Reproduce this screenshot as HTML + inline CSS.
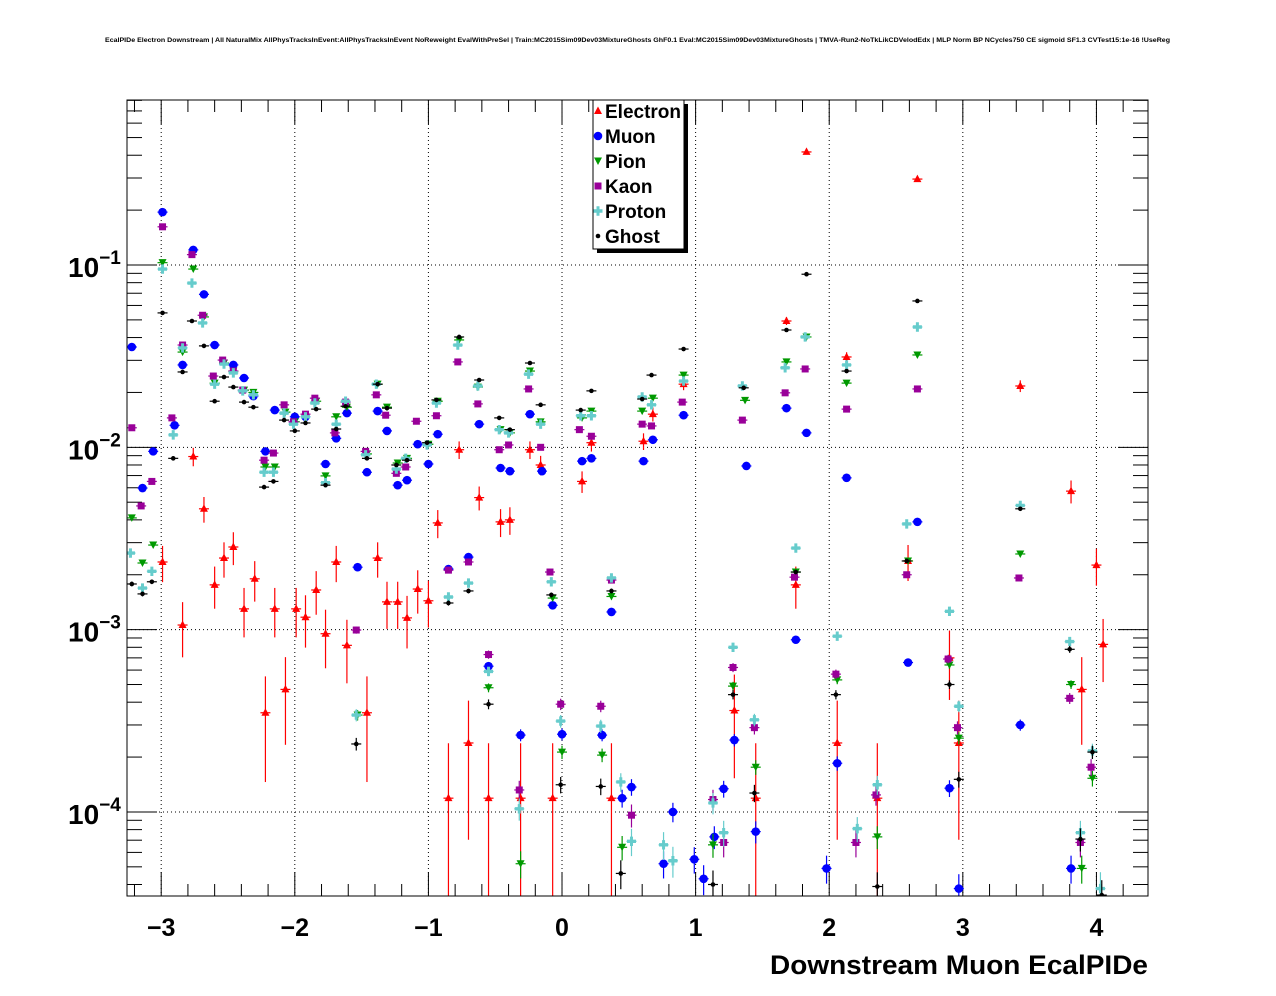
<!DOCTYPE html>
<html><head><meta charset="utf-8"><title>Downstream Muon EcalPIDe</title>
<style>
html,body{margin:0;padding:0;background:#fff;}
svg{display:block;}
text{font-family:"Liberation Sans",Arial,sans-serif;font-weight:bold;}
</style></head>
<body>
<svg id="chart" width="1276" height="996" viewBox="0 0 1276 996" xmlns="http://www.w3.org/2000/svg">
<rect x="0" y="0" width="1276" height="996" fill="#fff"/>
<text x="105" y="42" font-size="6" textLength="1065" lengthAdjust="spacingAndGlyphs">EcalPIDe Electron Downstream | All NaturalMix AllPhysTracksInEvent:AllPhysTracksInEvent NoReweight EvalWithPreSel | Train:MC2015Sim09Dev03MixtureGhosts GhF0.1 Eval:MC2015Sim09Dev03MixtureGhosts | TMVA-Run2-NoTkLikCDVelodEdx | MLP Norm BP NCycles750 CE sigmoid SF1.3 CVTest15:1e-16 !UseReg</text>
<g id="grid"></g>
<g id="axes"></g>
<g id="plotarea" clip-path="url(#clip)"></g>
<defs><clipPath id="clip"><rect x="127" y="100" width="1021" height="796"/></clipPath></defs>
<rect x="127" y="100" width="1021" height="796" fill="none" stroke="#000" stroke-width="1"/>
<text x="1148" y="974" font-size="27" text-anchor="end" textLength="378" lengthAdjust="spacingAndGlyphs">Downstream Muon EcalPIDe</text>
<g id="legend"></g>
</svg>
<script>
// ---- data ----
const seriesNames = ["Electron","Muon","Pion","Kaon","Proton","Ghost"];
const electronX = [-2.99,-2.84,-2.76,-2.68,-2.60,-2.53,-2.46,-2.38,-2.30,-2.22,-2.15,-2.07,-1.99,-1.92,-1.84,-1.77,-1.69,-1.61,-1.46,-1.38,-1.31,-1.23,-1.16,-1.08,-1.00,-0.93,-0.85,-0.77,-0.70,-0.62,-0.55,-0.46,-0.39,-0.31,-0.24,-0.16,-0.07,0.15,0.22,0.37,0.61,0.68,0.91,1.29,1.45,1.68,1.75,1.83,2.06,2.13,2.36,2.59,2.66,2.90,2.97,3.43,3.81,3.89,4.00,4.05];
const electronY = [2.35e-3,1.06e-3,8.9e-3,4.6e-3,1.76e-3,2.47e-3,2.84e-3,1.30e-3,1.90e-3,3.5e-4,1.30e-3,4.7e-4,1.30e-3,1.17e-3,1.65e-3,9.5e-4,2.35e-3,8.2e-4,3.5e-4,2.47e-3,1.42e-3,1.42e-3,1.16e-3,1.67e-3,1.44e-3,3.85e-3,1.19e-4,9.7e-3,2.39e-4,5.3e-3,1.19e-4,3.9e-3,4.0e-3,1.19e-4,9.7e-3,8.0e-3,1.19e-4,6.5e-3,1.06e-2,1.19e-4,1.08e-2,1.52e-2,2.22e-2,3.6e-4,1.19e-4,4.93e-2,1.76e-3,0.417,2.39e-4,3.13e-2,1.19e-4,2.38e-3,0.296,7.0e-4,2.39e-4,2.17e-2,5.75e-3,4.7e-4,2.26e-3,8.3e-4];
const muonX = [-3.22,-3.14,-3.06,-2.99,-2.90,-2.84,-2.76,-2.68,-2.60,-2.46,-2.38,-2.31,-2.22,-2.15,-2.00,-1.92,-1.77,-1.69,-1.61,-1.53,-1.46,-1.38,-1.31,-1.23,-1.16,-1.08,-1.00,-0.93,-0.85,-0.70,-0.62,-0.55,-0.46,-0.39,-0.31,-0.24,-0.15,-0.07,0.00,0.15,0.22,0.30,0.37,0.45,0.52,0.61,0.68,0.76,0.83,0.91,0.99,1.06,1.14,1.21,1.29,1.38,1.45,1.68,1.75,1.83,1.98,2.06,2.13,2.59,2.66,2.90,2.97,3.43,3.81];
const muonY = [3.55e-2,5.98e-3,9.5e-3,0.195,1.32e-2,2.83e-2,0.121,6.9e-2,3.64e-2,2.83e-2,2.40e-2,1.91e-2,9.5e-3,1.60e-2,1.47e-2,1.47e-2,8.1e-3,1.12e-2,1.54e-2,2.2e-3,7.3e-3,1.58e-2,1.23e-2,6.2e-3,6.6e-3,1.04e-2,8.1e-3,1.18e-2,2.15e-3,2.5e-3,1.34e-2,6.3e-4,7.7e-3,7.4e-3,2.64e-4,1.52e-2,7.4e-3,1.36e-3,2.67e-4,8.4e-3,8.7e-3,2.64e-4,1.25e-3,1.19e-4,1.37e-4,8.4e-3,1.10e-2,5.2e-5,1.0e-4,1.50e-2,5.5e-5,4.3e-5,7.3e-5,1.34e-4,2.48e-4,7.9e-3,7.8e-5,1.64e-2,8.8e-4,1.20e-2,4.9e-5,1.85e-4,6.8e-3,6.6e-4,3.9e-3,1.35e-4,3.8e-5,3.0e-4,4.9e-5];
const pionX = [-3.22,-3.14,-3.06,-2.99,-2.84,-2.76,-2.68,-2.60,-2.53,-2.46,-2.38,-2.31,-2.22,-2.15,-2.07,-2.00,-1.84,-1.77,-1.69,-1.61,-1.53,-1.46,-1.38,-1.31,-1.23,-1.16,-1.00,-0.93,-0.77,-0.63,-0.55,-0.46,-0.39,-0.31,-0.24,-0.16,-0.07,0.00,0.15,0.22,0.30,0.37,0.45,0.60,0.68,0.91,1.13,1.28,1.45,1.37,1.68,1.83,1.75,2.06,2.13,2.36,2.59,2.66,2.90,2.97,3.43,3.81,3.89,3.97];
const pionY = [4.1e-3,2.32e-3,2.91e-3,0.103,3.33e-2,9.5e-2,5.19e-2,2.25e-2,2.90e-2,2.62e-2,2.06e-2,2.0e-2,7.8e-3,7.8e-3,1.56e-2,1.38e-2,1.79e-2,6.97e-3,1.47e-2,1.66e-2,3.4e-4,9.2e-3,2.22e-2,1.66e-2,8.2e-3,8.7e-3,1.04e-2,1.79e-2,3.88e-2,2.14e-2,4.8e-4,1.25e-2,1.2e-2,5.2e-5,2.62e-2,1.38e-2,1.49e-3,2.13e-4,1.45e-2,1.58e-2,2.05e-4,1.52e-3,6.4e-5,1.58e-2,1.86e-2,2.49e-2,6.6e-5,4.9e-4,1.76e-4,1.81e-2,2.94e-2,4.03e-2,2.07e-3,5.3e-4,2.25e-2,7.3e-5,2.38e-3,3.21e-2,6.4e-4,2.54e-4,2.6e-3,5.0e-4,4.9e-5,1.53e-4];
const kaonX = [-3.22,-3.15,-3.07,-2.99,-2.92,-2.84,-2.77,-2.69,-2.61,-2.54,-2.46,-2.39,-2.23,-2.16,-2.08,-2.01,-1.92,-1.85,-1.70,-1.62,-1.54,-1.47,-1.39,-1.32,-1.24,-1.17,-1.09,-0.94,-0.85,-0.78,-0.70,-0.63,-0.55,-0.47,-0.40,-0.32,-0.25,-0.16,-0.09,-0.01,0.13,0.22,0.29,0.37,0.52,0.60,0.67,0.90,1.13,1.21,1.28,1.44,1.35,1.67,1.82,1.74,2.05,2.13,2.20,2.35,2.58,2.66,2.89,2.96,3.42,3.80,3.88,3.96];
const kaonY = [1.28e-2,4.77e-3,6.5e-3,0.162,1.45e-2,3.64e-2,0.114,5.3e-2,2.46e-2,3.01e-2,2.62e-2,2.06e-2,8.5e-3,9.3e-3,1.71e-2,1.38e-2,1.52e-2,1.86e-2,1.20e-2,1.77e-2,9.95e-4,9.5e-3,1.94e-2,1.50e-2,7.2e-3,7.8e-3,1.39e-2,1.49e-2,2.12e-3,2.94e-2,2.35e-3,1.73e-2,7.3e-4,9.7e-3,1.03e-2,1.32e-4,2.09e-2,1.0e-2,2.07e-3,3.9e-4,1.25e-2,1.15e-2,3.8e-4,1.87e-3,9.6e-5,1.34e-2,1.31e-2,1.77e-2,1.17e-4,6.8e-5,6.2e-4,2.9e-4,1.41e-2,1.99e-2,2.69e-2,1.94e-3,5.7e-4,1.62e-2,6.8e-5,1.24e-4,2.0e-3,2.09e-2,6.9e-4,2.9e-4,1.92e-3,4.2e-4,6.8e-5,1.76e-4];
const protonX = [-3.23,-3.14,-3.07,-2.99,-2.91,-2.84,-2.77,-2.69,-2.60,-2.53,-2.46,-2.39,-2.31,-2.23,-2.16,-2.08,-2.01,-1.92,-1.85,-1.77,-1.69,-1.62,-1.54,-1.47,-1.39,-1.24,-1.17,-1.01,-0.94,-0.85,-0.78,-0.70,-0.63,-0.55,-0.47,-0.40,-0.32,-0.25,-0.16,-0.08,-0.01,0.14,0.22,0.29,0.37,0.44,0.52,0.60,0.67,0.76,0.83,0.91,1.13,1.21,1.28,1.44,1.35,1.67,1.82,1.75,2.06,2.13,2.21,2.36,2.58,2.66,2.90,2.97,3.43,3.80,3.88,3.97,4.03];
const protonY = [2.63e-3,1.69e-3,2.09e-3,9.5e-2,1.17e-2,3.51e-2,7.96e-2,4.81e-2,2.22e-2,2.86e-2,2.56e-2,2.04e-2,1.94e-2,7.3e-3,7.3e-3,1.54e-2,1.34e-2,1.47e-2,1.75e-2,6.4e-3,1.34e-2,1.79e-2,3.4e-4,9.1e-3,2.22e-2,7.6e-3,8.7e-3,1.03e-2,1.75e-2,1.51e-3,3.64e-2,1.80e-3,2.17e-2,5.9e-4,1.25e-2,1.2e-2,1.04e-4,2.52e-2,1.34e-2,1.83e-3,3.15e-4,1.49e-2,1.49e-2,2.96e-4,1.92e-3,1.46e-4,6.9e-5,1.89e-2,1.71e-2,6.6e-5,5.4e-5,2.31e-2,1.12e-4,7.7e-5,8.0e-4,3.2e-4,2.17e-2,2.73e-2,4.03e-2,2.80e-3,9.2e-4,2.83e-2,8.1e-5,1.41e-4,3.8e-3,4.57e-2,1.26e-3,3.8e-4,4.8e-3,8.6e-4,7.7e-5,2.16e-4,3.8e-5];
const ghostX = [-3.22,-3.14,-3.07,-2.99,-2.91,-2.84,-2.77,-2.68,-2.60,-2.53,-2.46,-2.38,-2.31,-2.23,-2.16,-2.08,-2.00,-1.92,-1.84,-1.77,-1.69,-1.62,-1.54,-1.46,-1.38,-1.31,-1.24,-1.16,-1.01,-0.94,-0.85,-0.77,-0.70,-0.62,-0.55,-0.47,-0.39,-0.24,-0.16,-0.08,-0.01,0.14,0.22,0.29,0.37,0.44,0.60,0.67,0.91,1.13,1.28,1.44,1.36,1.68,1.83,1.75,2.05,2.13,2.36,2.58,2.66,2.90,2.97,3.43,3.80,3.88,3.97,4.04];
const ghostY = [1.78e-3,1.57e-3,1.83e-3,5.46e-2,8.7e-3,2.59e-2,4.93e-2,3.6e-2,1.79e-2,2.43e-2,2.14e-2,1.77e-2,1.66e-2,6.05e-3,6.5e-3,1.41e-2,1.23e-2,1.36e-2,1.62e-2,6.2e-3,1.26e-2,1.68e-2,2.36e-4,8.7e-3,2.22e-2,1.64e-2,8.0e-3,8.5e-3,1.06e-2,1.82e-2,1.40e-3,4.03e-2,1.63e-3,2.34e-2,3.9e-4,1.45e-2,1.25e-2,2.90e-2,1.71e-2,1.55e-3,1.41e-4,1.60e-2,2.04e-2,1.38e-4,1.63e-3,4.6e-5,1.84e-2,2.49e-2,3.46e-2,4.0e-5,4.4e-4,1.27e-4,2.12e-2,4.40e-2,8.9e-2,2.07e-3,4.4e-4,2.62e-2,3.9e-5,2.38e-3,6.35e-2,5.0e-4,1.51e-4,4.6e-3,7.8e-4,7.1e-5,2.13e-4,3.5e-5];
const errUnit = [1.19e-4,1.5e-6,1.5e-6,2e-6,2e-6,1.5e-6];
const xTickLabels = ["\u22123","\u22122","\u22121","0","1","2","3","4"];
const yTickLabels = ["\u22121","\u22122","\u22123","\u22124"];

// ---- axes ----
const PL=127, PR=1148, PT=100, PB=896;
const XMIN=-3.256, XMAX=4.386, LMIN=-4.461, LMAX=-0.095;
function sx(x){return PL+(x-XMIN)/(XMAX-XMIN)*(PR-PL);}
function sy(v){return PB-(Math.log10(v)-LMIN)/(LMAX-LMIN)*(PB-PT);}
const NS="http://www.w3.org/2000/svg";
function mk(tag,attrs,parent){const e=document.createElementNS(NS,tag);for(const k in attrs)e.setAttribute(k,attrs[k]);if(parent)parent.appendChild(e);return e;}
const grid=document.getElementById('grid'), axes=document.getElementById('axes'), plot=document.getElementById('plotarea'), legend=document.getElementById('legend');

xTickLabels.forEach((lab,i)=>{
  const xv=i-3, X=sx(xv);
  const g=mk('line',{x1:X,x2:X,y1:PT,y2:PB,stroke:'#000','stroke-width':1,'stroke-dasharray':'1,3'},grid);
  
  
  const t=mk('text',{x:X,y:936,'font-size':25,'text-anchor':'middle'},axes);
  t.textContent=lab;
  
  
});
for(let k=-17;k<=22;k++){
  const xv=k*0.2; if(xv<XMIN||xv>XMAX) continue;
  const X=sx(xv), major=(k%5===0), len=major?24:12;
  const a=mk('line',{x1:X,x2:X,y1:PB,y2:PB-len,stroke:'#000','stroke-width':1},axes);
  
  
  const b=mk('line',{x1:X,x2:X,y1:PT,y2:PT+len,stroke:'#000','stroke-width':1},axes);
  
  
}
for(let d=-5;d<=-1;d++){
  for(let m=1;m<=9;m++){
    const v=m*Math.pow(10,d), Y=sy(v);
    if(Y<PT||Y>PB) continue;
    const len=(m===1)?30:15;
    const a=mk('line',{x1:PL,x2:PL+len,y1:Y,y2:Y,stroke:'#000','stroke-width':1},axes);
    
    
    const b=mk('line',{x1:PR,x2:PR-len,y1:Y,y2:Y,stroke:'#000','stroke-width':1},axes);
    
    
  }
}
yTickLabels.forEach((lab,i)=>{
  const Y=sy(Math.pow(10,-1-i));
  const g=mk('line',{x1:PL,x2:PR,y1:Y,y2:Y,stroke:'#000','stroke-width':1,'stroke-dasharray':'1,3'},grid);
  
  
  const t=mk('text',{x:68,y:Y+12,'font-size':28},axes);
  
  
  const s1=mk('tspan',{},t); s1.textContent='10';
  const s2=mk('tspan',{dy:-13,'font-size':19},t); s2.textContent=lab;
});

const colors=['#ff0000','#0000ff','#009900','#990099','#66cccc','#000000'];
function marker(idx,X,Y,parent){
  const c=colors[idx];
  let e;
  if(idx===0) e=mk('polygon',{points:`${X},${Y-4.5} ${X-4},${Y+3} ${X+4},${Y+3}`,fill:c},parent);
  else if(idx===1) e=mk('circle',{cx:X,cy:Y,r:4.3,fill:c},parent);
  else if(idx===2) e=mk('polygon',{points:`${X-4},${Y-3.5} ${X+4},${Y-3.5} ${X},${Y+4}`,fill:c},parent);
  else if(idx===3) e=mk('rect',{x:X-3.5,y:Y-3.5,width:7,height:7,fill:c},parent);
  else if(idx===4) e=mk('path',{d:`M${X-4.5},${Y-1.7}h3v-3h3v3h3v3.4h-3v3h-3v-3h-3z`,fill:c},parent);
  else e=mk('circle',{cx:X,cy:Y,r:2.3,fill:c},parent);
  return e;
}
const allX=[electronX,muonX,pionX,kaonX,protonX,ghostX];
const allY=[electronY,muonY,pionY,kaonY,protonY,ghostY];
allX.forEach((xs,si)=>{
  const g=mk('g',{},plot);
  
  
  xs.forEach((xv,j)=>{
    const v=allY[si][j], X=sx(xv), Y=sy(v);
    const rel=Math.sqrt(errUnit[si]/v);
    const lo=v*(1-rel), hi=v*(1+rel);
    const Ylo=lo>0?sy(lo):PB+10, Yhi=sy(hi);
    const c=colors[si];
    const h=mk('line',{x1:X-5,x2:X+5,y1:Y,y2:Y,stroke:c,'stroke-width':1.2},g);
    
    
    const ve=mk('line',{x1:X,x2:X,y1:Yhi,y2:Ylo,stroke:c,'stroke-width':1.2},g);
    
    
    const m=marker(si,X,Y,g);
    
    
  });
});

const sh=mk('rect',{x:597,y:104,width:91,height:149,fill:'#000'},legend);


const box=mk('rect',{x:593,y:100,width:91,height:149,fill:'#fff',stroke:'#000','stroke-width':1},legend);


seriesNames.forEach((nm,i)=>{
  const Y=111+i*25;
  const g=mk('g',{},legend);
  
  
  marker(i,598,Y,g);
  const t=mk('text',{x:605,y:Y+7,'font-size':19},g);
  t.textContent=nm;
});
</script>
</body></html>
